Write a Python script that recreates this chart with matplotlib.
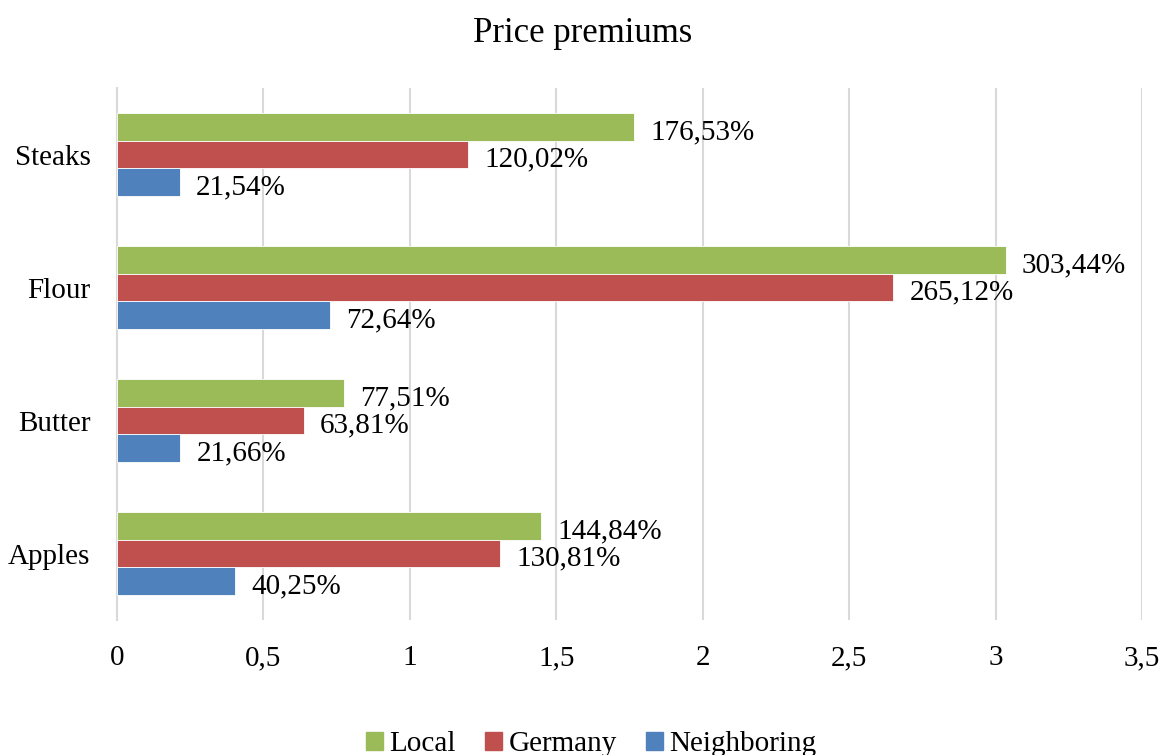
import numpy as np
import matplotlib
matplotlib.use('Agg')
import matplotlib.pyplot as plt
from matplotlib.patches import Patch

categories = ['Apples', 'Butter', 'Flour', 'Steaks']
local = [1.4484, 0.7751, 3.0344, 1.7653]
germany = [1.3081, 0.6381, 2.6512, 1.2002]
neighboring = [0.4025, 0.2166, 0.7264, 0.2154]
series_names = ['Local', 'Germany', 'Neighboring']
colors = ['#9BBB59', '#C0504D', '#4F81BD']
xticks = [0, 0.5, 1, 1.5, 2, 2.5, 3, 3.5]

plt.rcParams['font.family'] = ['Liberation Serif', 'DejaVu Serif']

fig = plt.figure(figsize=(11.66, 7.55), dpi=100)
ax = fig.add_axes([0.1003, 0.1788, 0.8791, 0.7046])

y = np.arange(len(categories))
h = 0.207
offsets = [h, 0, -h]
for vals, off, col in zip([local, germany, neighboring], offsets, colors):
    bars = ax.barh(y + off, vals, height=h, color=col, edgecolor='white', linewidth=0.6, zorder=3)
    for b, v in zip(bars, vals):
        lab = '{:.2f}%'.format(v * 100).replace('.', ',')
        ax.text(v + 0.055, b.get_y() + b.get_height() / 2 - 0.04, lab,
                va='center', ha='left', fontsize=21, zorder=4)

ax.set_xlim(0, 3.5)
ax.set_ylim(-0.5, 3.5)
ax.set_xticks(xticks)
ax.set_xticklabels([str(t).replace('.', ',') if t % 1 else str(int(t)) for t in xticks], fontsize=21)
ax.set_yticks(y)
ax.set_yticklabels(categories, fontsize=21)
ax.tick_params(axis='both', length=0)
ax.tick_params(axis='x', pad=18)
ax.tick_params(axis='y', pad=19)
ax.grid(axis='x', color='#D9D9D9', linewidth=1.5, zorder=0)
for s in ['top', 'right', 'bottom']:
    ax.spines[s].set_visible(False)
ax.spines['left'].set_color('#D9D9D9')
ax.spines['left'].set_linewidth(1.5)

fig.text(0.5, 0.956, 'Price premiums', ha='center', va='center', fontsize=25)

# legend sits at the very bottom edge, like the reference
handles = [Patch(color=c) for c in colors]
fig.legend(handles, series_names, loc='center', bbox_to_anchor=(0.507, 0.014), ncol=3,
           frameon=False, fontsize=21, handlelength=0.6, handleheight=0.6,
           handletextpad=0.2, columnspacing=1.0)

fig.savefig('out.png', dpi=100)
